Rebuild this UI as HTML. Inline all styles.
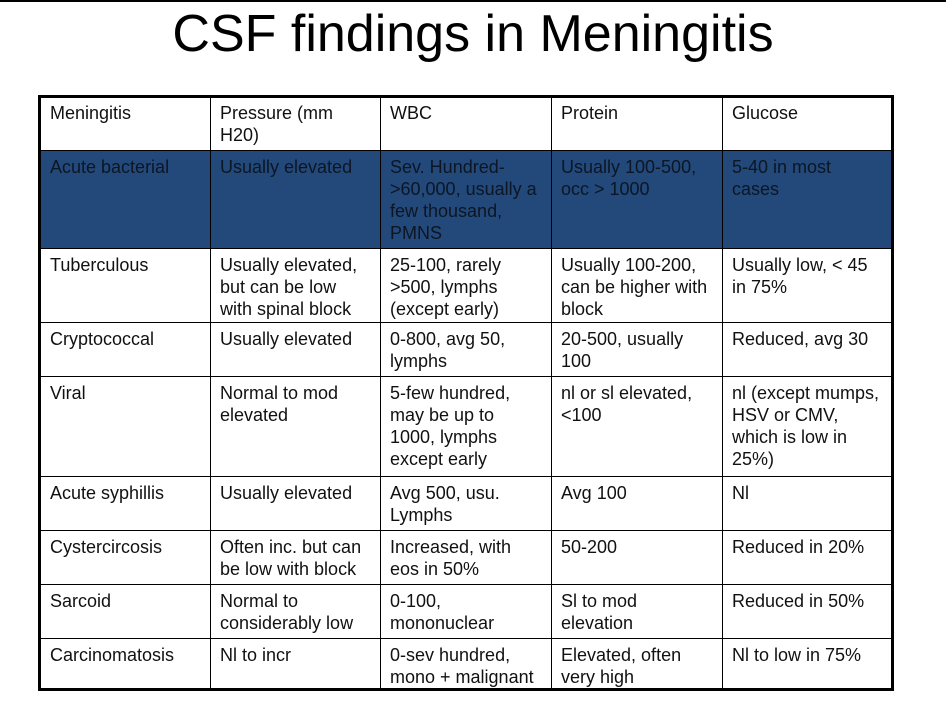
<!DOCTYPE html>
<html><head><meta charset="utf-8">
<style>
html,body{margin:0;padding:0;background:#fff;}
body{width:946px;height:711px;position:relative;overflow:hidden;font-family:"Liberation Sans",Arial,sans-serif;}
#topline{position:absolute;left:0;top:0;width:946px;height:2px;background:#000;}
#title{position:absolute;left:0;top:3px;width:946px;text-align:center;}
#title span{display:inline-block;font-size:52px;line-height:62px;color:#000;transform:scaleX(1.0);transform-origin:center;}
#tbl{position:absolute;left:38px;top:95px;width:850px;height:590px;border:3px solid #000;}
.c{position:absolute;box-sizing:border-box;font-size:18px;line-height:22px;color:#111;padding:4px 8px 0 9px;}
.bl{border-left:1px solid #000;}
.bt{border-top:1px solid #000;}
.blue{background:#22497a;color:#0c1624;}
</style></head><body>
<div id="topline"></div>
<div id="title"><span>CSF findings in Meningitis</span></div>
<div id="tbl"></div>
<script>
const cols=[0,169,339,510,681,850];
const rows=[0,52,150,224,278,378,432,486,540,590];
const data=[
["Meningitis","Pressure (mm H20)","WBC","Protein","Glucose"],
["Acute bacterial","Usually elevated","Sev. Hundred-&gt;60,000, usually a few thousand, PMNS","Usually 100-500, occ &gt; 1000","5-40 in most cases"],
["Tuberculous","Usually elevated, but can be low with spinal block","25-100, rarely &gt;500, lymphs (except early)","Usually 100-200, can be higher with block","Usually low, &lt; 45 in 75%"],
["Cryptococcal","Usually elevated","0-800, avg 50, lymphs","20-500, usually 100","Reduced, avg 30"],
["Viral","Normal to mod elevated","5-few hundred, may be up to 1000, lymphs except early","nl or sl elevated, &lt;100","nl (except mumps, HSV or CMV, which is low in 25%)"],
["Acute syphillis","Usually elevated","Avg 500, usu. Lymphs","Avg 100","Nl"],
["Cystercircosis","Often inc. but can be low with block","Increased, with eos in 50%","50-200","Reduced in 20%"],
["Sarcoid","Normal to considerably low","0-100, mononuclear","Sl to mod elevation","Reduced in 50%"],
["Carcinomatosis","Nl to incr","0-sev hundred, mono + malignant","Elevated, often very high","Nl to low in 75%"]
];
const tbl=document.getElementById('tbl');
for(let r=0;r<data.length;r++){
  for(let c=0;c<5;c++){
    const d=document.createElement('div');
    
    
    d.className='c'+(c>0?' bl':'')+(r>0?' bt':'')+(r==1?' blue':'');
    d.style.left=cols[c]+'px';d.style.top=rows[r]+'px';
    d.style.width=(cols[c+1]-cols[c])+'px';d.style.height=(rows[r+1]-rows[r])+'px';
    if(r>0)d.style.paddingTop='5px';
    d.innerHTML=data[r][c];
    tbl.appendChild(d);
  }
}
</script>
</body></html>
